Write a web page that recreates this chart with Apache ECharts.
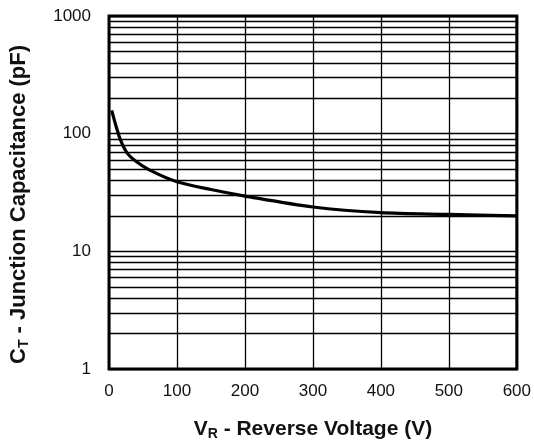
<!DOCTYPE html>
<html>
<head>
<meta charset="utf-8">
<script src="https://cdn.jsdelivr.net/npm/echarts@6/dist/echarts.min.js"></script>
<style>
  html, body { margin: 0; padding: 0; background: #fff; }
  #chart { width: 534px; height: 446px; }
</style>
</head>
<body>
<div id="chart"></div>
<script>
// reverse voltage (V) vs junction capacitance (pF)
var voltage = [4, 10, 17, 27, 40, 60, 100, 150, 200, 300, 400, 500, 600];
var capacitance = [158, 118, 88, 68, 58, 49, 39, 33.5, 29.5, 23.8, 21.3, 20.6, 20];
// minor log grid lines (2..9 of each decade)
var minorLines = [2, 3, 4, 5, 6, 7, 8, 9,
    20, 30, 40, 50, 60, 70, 80, 90,
    200, 300, 400, 500, 600, 700, 800, 900];

var font = 'Liberation Sans, Arial, Helvetica, sans-serif';

var chart = echarts.init(document.getElementById('chart'));

var option = {
    animation: false,
    grid: {
        left: 108, right: 15, top: 16, bottom: 77,
        show: true,
        borderColor: '#000',
        borderWidth: 3,
        backgroundColor: '#fff'
    },
    xAxis: {
        type: 'value',
        min: 0, max: 600, interval: 100,
        axisLine: { show: false },
        axisTick: { show: false },
        axisLabel: { color: '#111', fontSize: 17, fontFamily: font, margin: 14 },
        splitLine: { show: true, lineStyle: { color: '#000', width: 1.3 } },
        name: '{b|V}{s|R}{b| - Reverse Voltage (V)}',
        nameLocation: 'middle',
        nameGap: 48,
        nameTextStyle: {
            rich: {
                b: { fontSize: 21, fontWeight: 'bold', fontFamily: font, color: '#111' },
                s: { fontSize: 14, fontWeight: 'bold', fontFamily: font, color: '#111', padding: [10, 0, 0, 0] }
            }
        }
    },
    yAxis: {
        type: 'log',
        logBase: 10,
        min: 1, max: 1000,
        axisLine: { show: false },
        axisTick: { show: false },
        axisLabel: {
            color: '#111', fontSize: 17, fontFamily: font, margin: 18,
            formatter: function (v) { return String(v); }
        },
        splitLine: { show: true, lineStyle: { color: '#000', width: 1.3 } },
        name: '{b|C}{s|T}{b| - Junction Capacitance (pF)}{e|}',
        nameLocation: 'middle',
        nameGap: 78,
        nameTextStyle: {
            rich: {
                b: { fontSize: 22, fontWeight: 'bold', fontFamily: font, color: '#111' },
                s: { fontSize: 14, fontWeight: 'bold', fontFamily: font, color: '#111', padding: [10, 0, 0, 0] },
                e: { width: 24 }
            }
        }
    },
    series: [
        {
            type: 'line',
            smooth: 0.3,
            symbol: 'none',
            data: voltage.map(function (v, i) { return [v, capacitance[i]]; }),
            lineStyle: { color: '#000', width: 3.2 },
            z: 5,
            markLine: {
                silent: true,
                symbol: 'none',
                label: { show: false },
                lineStyle: { color: '#000', width: 1.3, type: 'solid' },
                data: minorLines.map(function (y) { return { yAxis: y }; })
            }
        }
    ]
};

chart.setOption(option);
</script>
</body>
</html>
